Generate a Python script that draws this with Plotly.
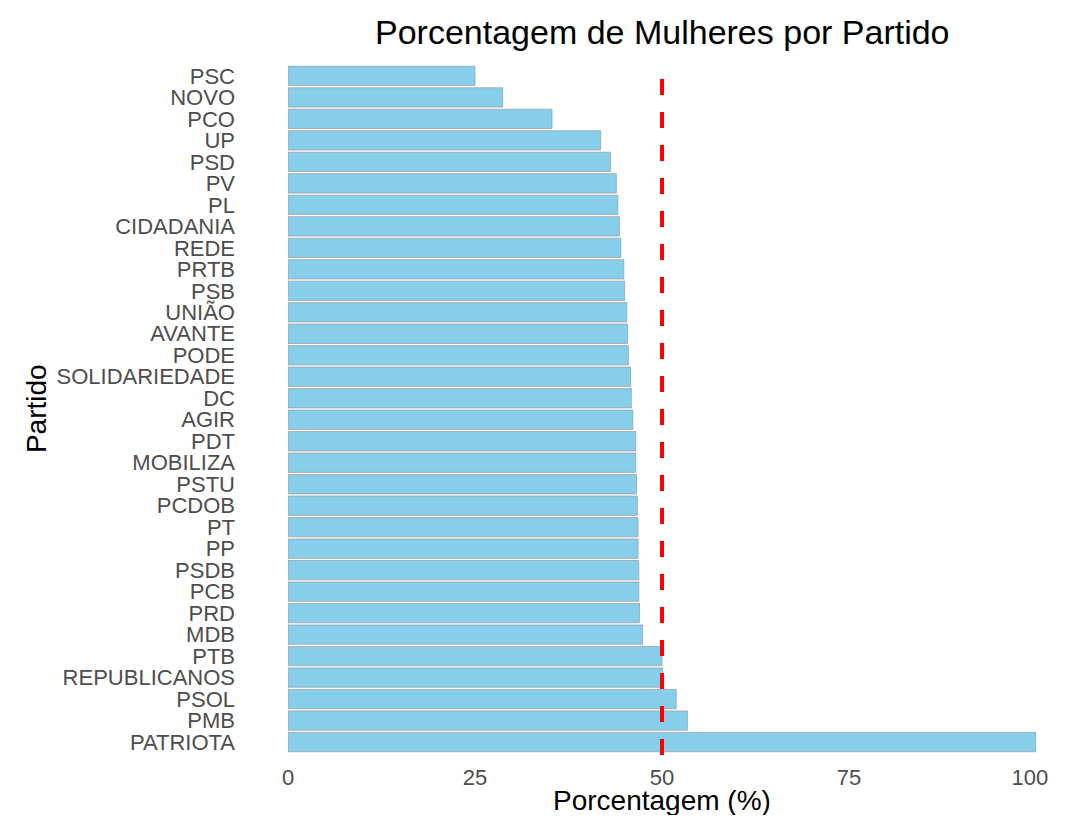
import plotly.graph_objects as go

partidos = ["PSC", "NOVO", "PCO", "UP", "PSD", "PV", "PL", "CIDADANIA", "REDE", "PRTB",
            "PSB", "UNIÃO", "AVANTE", "PODE", "SOLIDARIEDADE", "DC", "AGIR", "PDT", "MOBILIZA",
            "PSTU", "PCDOB", "PT", "PP", "PSDB", "PCB", "PRD", "MDB", "PTB", "REPUBLICANOS",
            "PSOL", "PMB", "PATRIOTA"]
porcentagem = [25.0, 28.7, 35.3, 41.8, 43.1, 43.9, 44.1, 44.3, 44.5, 44.9,
               45.0, 45.3, 45.4, 45.5, 45.8, 45.9, 46.1, 46.5, 46.5,
               46.6, 46.7, 46.8, 46.8, 46.9, 46.9, 47.0, 47.4, 50.0, 50.1,
               51.9, 53.4, 100.0]
referencia = 50
x_ticks = [0, 25, 50, 75, 100]

# the page body keeps its default 8px margin, so the figure is sized to fit the window
W, H = 1064, 807
L, R, T, B = 280, 12, 55, 60

fig = go.Figure()
fig.add_trace(go.Bar(
    y=partidos, x=porcentagem, orientation="h",
    marker=dict(color="#87CEEB", line=dict(color="#9a9a9a", width=0.7)),
    width=0.9,
))

fig.add_shape(type="line", xref="x", yref="paper", x0=referencia, x1=referencia, y0=0, y1=1,
              line=dict(color="#FF0000", width=4, dash="16px,17px"), layer="above")

fig.update_layout(
    width=W, height=H,
    margin=dict(l=L, r=R, t=T, b=B, pad=0),
    paper_bgcolor="white", plot_bgcolor="white",
    showlegend=False,
    font=dict(family="Liberation Sans, Arial, sans-serif"),
    bargap=0.1,
)
# the last label gets trailing no-break spaces so it stays inside the figure edge
x_ticktext = [str(v) for v in x_ticks[:-1]] + [str(x_ticks[-1]) + "\u00a0\u00a0"]
fig.update_xaxes(range=[0, 100], tickvals=x_ticks, ticktext=x_ticktext,
                 showgrid=False, zeroline=False, showline=False, ticks="",
                 ticklabeloverflow="allow",
                 tickfont=dict(size=22, color="#4D4D4D"), ticklabelstandoff=7)
fig.update_yaxes(autorange=False, range=[len(partidos) - 1 + 0.6, -0.6],
                 tickmode="array", tickvals=partidos, ticktext=partidos,
                 showgrid=False, zeroline=False, showline=False, ticks="",
                 tickfont=dict(size=22, color="#4D4D4D"), ticklabelstandoff=52)

PW, PH = W - L - R, H - T - B
fig.add_annotation(text="Porcentagem de Mulheres por Partido", xref="paper", yref="paper",
                   x=0.5, y=1 + (T - 24) / PH, xanchor="center", yanchor="middle",
                   showarrow=False, font=dict(size=34, color="black"))
fig.add_annotation(text="Porcentagem (%)", xref="paper", yref="paper",
                   x=0.5, y=-(792 - (H - B)) / PH, xanchor="center", yanchor="middle",
                   showarrow=False, font=dict(size=28, color="black"))
fig.add_annotation(text="Partido", xref="paper", yref="paper",
                   x=-(L - 20) / PW, y=0.5, xanchor="center", yanchor="middle",
                   textangle=-90, showarrow=False, font=dict(size=28, color="black"))

fig.write_html("out.html", config={"displayModeBar": False})
